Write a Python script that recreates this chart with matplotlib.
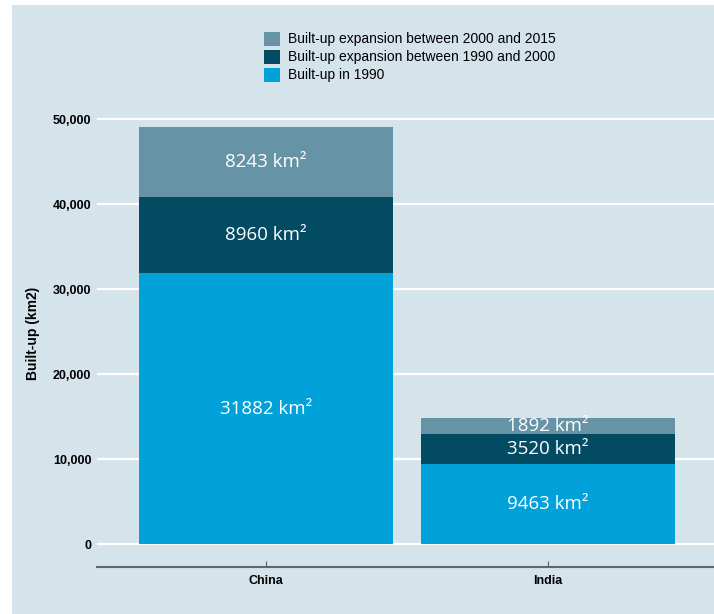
import matplotlib
matplotlib.use("Agg")
import matplotlib.pyplot as plt
from matplotlib.patches import Patch, Rectangle
from matplotlib.ticker import FuncFormatter

countries = ["China", "India"]
built_1990 = [31882, 9463]
exp_1990_2000 = [8960, 3520]
exp_2000_2015 = [8243, 1892]

series_labels = [
    "Built-up in 1990",
    "Built-up expansion between 1990 and 2000",
    "Built-up expansion between 2000 and 2015",
]
colors = ["#00a2d9", "#034b63", "#6793a7"]
bg = "#d5e3eb"

plt.rcParams["font.family"] = ["Liberation Sans", "DejaVu Sans"]

fig = plt.figure(figsize=(7.14, 6.14), dpi=100, facecolor="white")
# panel background, leaving a thin white margin on the left and top
fig.patches.append(Rectangle((12 / 714, -0.01), 1, 1.01 - 5 / 614,
                             transform=fig.transFigure, facecolor=bg,
                             edgecolor="none", zorder=-10))

ax = fig.add_axes([97 / 714, 47.3 / 614, 1 - 97 / 714, (566.7 - 100) / 614])
ax.set_facecolor(bg)

x = list(range(len(countries)))
bottoms = [0] * len(countries)
for vals, col in zip([built_1990, exp_1990_2000, exp_2000_2015], colors):
    ax.bar(x, vals, width=0.9, bottom=bottoms, color=col, zorder=3)
    for xi, b, v in zip(x, bottoms, vals):
        ax.text(xi, b + v / 2, f"{v} km²", ha="center", va="center",
                color="white", fontsize=13.5, family=["Open Sans", "DejaVu Sans"],
                zorder=4)
    bottoms = [b + v for b, v in zip(bottoms, vals)]

ax.set_xlim(-0.6, 1.589)
ax.set_ylim(-2609, 52233)
ax.set_yticks([0, 10000, 20000, 30000, 40000, 50000])
ax.yaxis.set_major_formatter(FuncFormatter(lambda v, p: f"{int(v):,}"))
ax.grid(axis="y", color="white", linewidth=1.6, zorder=0)
ax.set_xticks(x)
ax.set_xticklabels(countries, fontweight="bold", fontsize=9)
for lbl in ax.get_yticklabels():
    lbl.set_fontweight("bold")
    lbl.set_fontsize(9)
ax.tick_params(axis="y", length=0, pad=4)
ax.tick_params(axis="x", direction="in", length=4, color="#555f66", pad=6)

for side in ["top", "right", "left"]:
    ax.spines[side].set_visible(False)
ax.spines["bottom"].set_color("#5b666d")
ax.spines["bottom"].set_linewidth(1.5)

ax.set_ylabel("Built-up (km2)", fontweight="bold", fontsize=10)
ax.yaxis.set_label_coords(-0.093, 0.5)

handles = [Patch(facecolor=c) for c in colors]
fig.legend(handles[::-1], series_labels[::-1], loc="upper left",
           bbox_to_anchor=(254 / 714, 1 - 22 / 614), frameon=False,
           fontsize=10, handlelength=1.15, handleheight=1.15,
           handletextpad=0.6, labelspacing=0.25, borderpad=0.2)

fig.savefig("out.png", dpi=100, facecolor="white")
